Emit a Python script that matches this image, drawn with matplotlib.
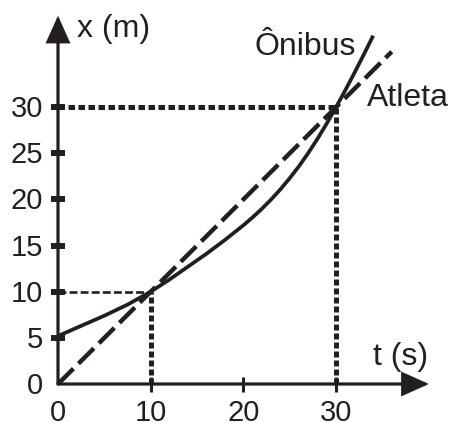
import numpy as np
import matplotlib
matplotlib.use("Agg")
import matplotlib.pyplot as plt

plt.rcParams["font.family"] = ["Liberation Sans", "DejaVu Sans"]

INK = "#231f20"

# bus position (t in s, x in m)
bus_t = [0, 2.5, 5, 7.5, 10, 12, 14, 16, 18, 20, 21, 22, 23, 24, 25, 26,
         27, 28, 29, 30, 31, 32, 33, 34]
bus_x = [5.2, 6.3, 7.4, 8.6, 10.0, 11.3, 12.7, 14.1, 15.6, 17.2, 18.06,
         18.99, 20.0, 21.1, 22.3, 23.6, 25.03, 26.58, 28.24, 30.0, 31.84,
         33.75, 35.72, 37.74]

# athlete: straight line from the origin
athlete_t = [0, 36]
athlete_x = [0, 36]

# meeting points (t, x)
meet_t = [10, 30]
meet_x = [10, 30]

x_ticks = [0, 10, 20, 30]
y_ticks = [0, 5, 10, 15, 20, 25, 30]

# pixel scale of the reference: origin at (58, 384), ~9.27 px per second, ~9.23 px per metre
fig = plt.figure(figsize=(4.55, 4.23), dpi=100)
ax = fig.add_axes([0, 0, 1, 1])
ax.set_xlim(-58 / 9.27, (455 - 58) / 9.27)
ax.set_ylim(-(423 - 384) / 9.23, 384 / 9.23)
ax.axis("off")

# axes with arrow heads
arrow = dict(arrowstyle="-|>,head_length=0.8,head_width=0.36", mutation_scale=20,
             lw=2.3, color=INK, shrinkA=0, shrinkB=0, joinstyle="miter")
ax.annotate("", xy=(0, 39.9), xytext=(0, 0), arrowprops=arrow)
ax.annotate("", xy=(40.0, 0), xytext=(0, 0), arrowprops=arrow)

# ticks
ax.plot(np.zeros(len(y_ticks) - 1), y_ticks[1:], ls="none", marker="_",
        ms=9.5, mew=4.3, color=INK)
ax.plot(x_ticks[1:], np.zeros(len(x_ticks) - 1), ls="none", marker="|",
        ms=10.8, mew=2.2, color=INK)

for v in y_ticks:
    ax.text(-1.62, v - 1.08, str(v), ha="right", va="baseline",
            fontsize=21, color=INK)
for v in x_ticks:
    ax.text(v, -4.0, str(v), ha="center", va="baseline",
            fontsize=21, color=INK)

# dotted guides to the meeting points
t10, t30 = meet_t
x10, x30 = meet_x
ax.plot([0, t10], [x10, x10], color=INK, lw=1.9, dashes=(3.0, 1.2),
        solid_capstyle="butt")
ax.plot([t10, t10], [0, x10], color=INK, lw=3.6, dashes=(1.2, 0.6))
ax.plot([0, t30], [x30, x30], color=INK, lw=3.6, dashes=(1.3, 0.7))
ax.plot([t30, t30], [0, x30], color=INK, lw=3.6, dashes=(1.2, 0.6))

# curves
ax.plot(athlete_t, athlete_x, color=INK, lw=3.2, dashes=(4.9, 1.6))
ax.plot(bus_t, bus_x, color=INK, lw=2.7, solid_capstyle="butt",
        solid_joinstyle="round")

# labels
ax.text(2.05, 37.6, "x (m)", fontsize=23, color=INK, va="baseline")
ax.text(34.0, 2.06, "t (s)", fontsize=23, color=INK, va="baseline")
ax.text(21.25, 35.6, "Ônibus", fontsize=23, color=INK, va="baseline")
ax.text(33.3, 30.1, "Atleta", fontsize=23, color=INK, va="baseline")

fig.savefig("out.png", dpi=100)
